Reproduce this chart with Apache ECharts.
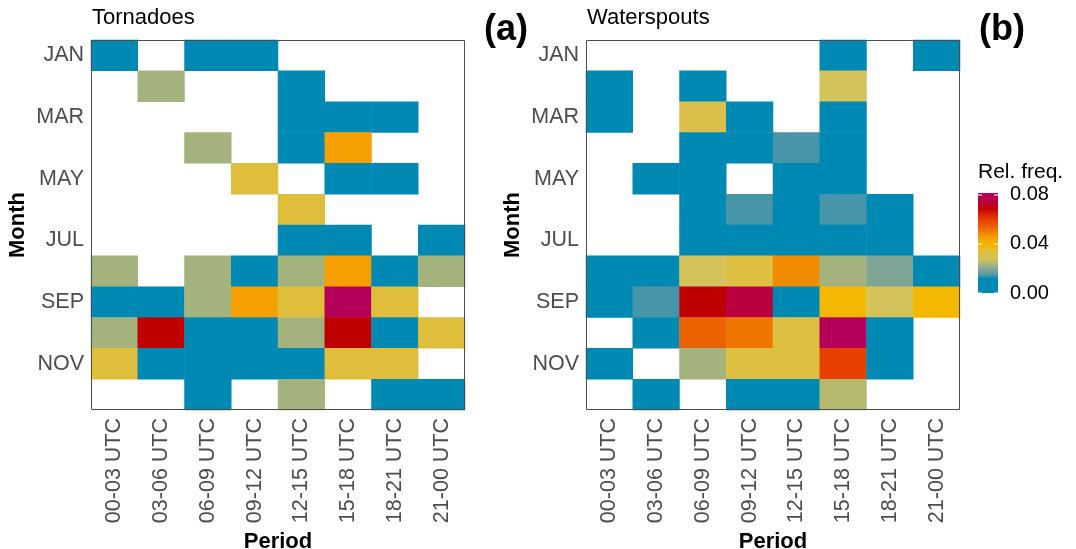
<!DOCTYPE html>
<html>
<head>
<meta charset="utf-8">
<script src="https://cdn.jsdelivr.net/npm/echarts@6/dist/echarts.min.js"></script>
<style>
  html, body { margin: 0; padding: 0; background: #fff; }
  #chart { width: 1076px; height: 549px; }
</style>
</head>
<body>
<div id="chart"></div>
<script>
// Hour blocks (x) and months (y)
const periods = ['00-03 UTC', '03-06 UTC', '06-09 UTC', '09-12 UTC', '12-15 UTC', '15-18 UTC', '18-21 UTC', '21-00 UTC'];
const months = ['JAN', 'FEB', 'MAR', 'APR', 'MAY', 'JUN', 'JUL', 'AUG', 'SEP', 'OCT', 'NOV', 'DEC'];

// Relative frequency per month (rows) and period (columns); null = no reports
const tornadoes = [
  [0.011, null, 0.011, 0.011, null, null, null, null],
  [null, 0.023, null, null, 0.011, null, null, null],
  [null, null, null, null, 0.011, 0.011, 0.011, null],
  [null, null, 0.023, null, 0.011, 0.045, null, null],
  [null, null, null, 0.034, null, 0.011, 0.011, null],
  [null, null, null, null, 0.034, null, null, null],
  [null, null, null, null, 0.011, 0.011, null, 0.011],
  [0.023, null, 0.023, 0.011, 0.023, 0.045, 0.011, 0.023],
  [0.011, 0.011, 0.023, 0.045, 0.034, 0.080, 0.034, null],
  [0.023, 0.069, 0.011, 0.011, 0.023, 0.069, 0.011, 0.034],
  [0.034, 0.011, 0.011, 0.011, 0.011, 0.034, 0.034, null],
  [null, null, 0.011, null, 0.023, null, 0.011, 0.011]
];

const waterspouts = [
  [null, null, null, null, null, 0.006, null, 0.006],
  [0.006, null, 0.006, null, null, 0.028, null, null],
  [0.006, null, 0.031, 0.006, null, 0.006, null, null],
  [null, null, 0.006, 0.006, 0.014, 0.006, null, null],
  [null, 0.006, 0.006, null, 0.006, 0.006, null, null],
  [null, null, 0.006, 0.014, 0.006, 0.014, 0.006, null],
  [null, null, 0.006, 0.006, 0.006, 0.006, 0.006, null],
  [0.006, 0.006, 0.028, 0.033, 0.048, 0.023, 0.019, 0.006],
  [0.006, 0.014, 0.069, 0.075, 0.006, 0.039, 0.028, 0.039],
  [null, 0.006, 0.054, 0.051, 0.033, 0.080, 0.006, null],
  [0.006, null, 0.023, 0.033, 0.033, 0.060, 0.006, null],
  [null, 0.006, null, 0.006, 0.006, 0.025, null, null]
];

// Colour scale anchors: [value, colour]
const scaleStops = [
  [0.000, '#0089b3'], [0.012, '#0089b3'], [0.014, '#4795a8'], [0.019, '#7fa596'],
  [0.023, '#a4b27e'], [0.028, '#d4c25a'], [0.034, '#dfbe3c'], [0.039, '#f4b800'],
  [0.045, '#f5a000'], [0.049, '#f08500'], [0.053, '#ec6800'], [0.060, '#e84000'],
  [0.065, '#d81a00'], [0.069, '#bf0000'], [0.075, '#bb0040'], [0.080, '#b5005a']
];
const legendTicks = [0.00, 0.04, 0.08];

const SCALE_MAX = 0.08;
const FONT = '"Liberation Sans", Arial, Helvetica, sans-serif';

function hexToRgb(h) {
  return [parseInt(h.slice(1, 3), 16), parseInt(h.slice(3, 5), 16), parseInt(h.slice(5, 7), 16)];
}
function colourAt(v) {
  if (v <= scaleStops[0][0]) return scaleStops[0][1];
  for (let i = 1; i < scaleStops.length; i++) {
    const [v1, c1] = scaleStops[i];
    const [v0, c0] = scaleStops[i - 1];
    if (v <= v1) {
      const t = (v - v0) / (v1 - v0);
      const a = hexToRgb(c0), b = hexToRgb(c1);
      const rgb = a.map((x, k) => Math.round(x + (b[k] - x) * t));
      return 'rgb(' + rgb.join(',') + ')';
    }
  }
  return scaleStops[scaleStops.length - 1][1];
}
// fine ramp so the continuous visualMap follows the uneven anchors
const ramp = [];
for (let i = 0; i <= 160; i++) ramp.push(colourAt(SCALE_MAX * i / 160));

function toCells(matrix) {
  const out = [];
  matrix.forEach((row, y) => row.forEach((v, x) => { if (v !== null) out.push([x, y, v]); }));
  return out;
}

const panels = [
  { left: 91, top: 40, width: 374, height: 370, title: 'Tornadoes', tag: '(a)', data: tornadoes },
  { left: 586, top: 40, width: 374, height: 370, title: 'Waterspouts', tag: '(b)', data: waterspouts }
];

const axisText = { color: '#4d4d4d', fontSize: 21.5, fontFamily: FONT };
const nameText = { color: '#000', fontSize: 22, fontWeight: 'bold', fontFamily: FONT };

// colour bar geometry
const bar = { x: 978, y: 193, w: 20, h: 100 };
const barMax = 0.0816;
const barY = v => bar.y + bar.h - v / barMax * bar.h;

const graphics = [];
panels.forEach(p => {
  graphics.push({
    type: 'rect', z: 100, silent: true,
    shape: { x: p.left + 0.5, y: p.top + 0.5, width: p.width - 1, height: p.height - 1 },
    style: { fill: 'none', stroke: '#4d4d4d', lineWidth: 1 }
  });
  graphics.push({
    type: 'text', z: 100, left: p.left + p.width + 19, top: 12,
    style: { text: p.tag, fontSize: 36, fontWeight: 'bold', fontFamily: FONT, fill: '#000' }
  });
});
graphics.push({
  type: 'text', x: 978, y: 172,
  style: { text: 'Rel. freq.', fontSize: 21, fontFamily: FONT, fill: '#000', textVerticalAlign: 'middle' }
});
graphics.push({
  type: 'rect', silent: true,
  shape: { x: bar.x, y: bar.y, width: bar.w, height: bar.h },
  style: {
    fill: {
      type: 'linear', x: 0, y: 1, x2: 0, y2: 0,
      colorStops: scaleStops.map(s => ({ offset: s[0] / barMax, color: s[1] }))
        .concat([{ offset: 1, color: scaleStops[scaleStops.length - 1][1] }])
    }
  }
});
legendTicks.forEach(t => {
  graphics.push({
    type: 'line', silent: true,
    shape: { x1: bar.x, y1: barY(t), x2: bar.x + 4, y2: barY(t) },
    style: { stroke: '#fff', lineWidth: 1 }
  });
  graphics.push({
    type: 'line', silent: true,
    shape: { x1: bar.x + bar.w - 4, y1: barY(t), x2: bar.x + bar.w, y2: barY(t) },
    style: { stroke: '#fff', lineWidth: 1 }
  });
  graphics.push({
    type: 'text', x: 1010, y: barY(t),
    style: { text: t.toFixed(2), fontSize: 20, fontFamily: FONT, fill: '#000', textVerticalAlign: 'middle' }
  });
});

const option = {
  backgroundColor: '#fff',
  animation: false,
  title: panels.map(p => ({
    text: p.title, left: p.left + 1, top: 7, padding: 0,
    textStyle: { fontSize: 22, fontWeight: 'normal', color: '#000', fontFamily: FONT }
  })),
  grid: panels.map(p => ({
    left: p.left, top: p.top, width: p.width, height: p.height,
    show: false, containLabel: false, outerBoundsMode: 'none'
  })),
  xAxis: panels.map((p, i) => ({
    type: 'category', gridIndex: i, data: periods,
    name: 'Period', nameLocation: 'middle', nameGap: 118, nameTextStyle: nameText,
    axisLine: { show: false }, axisTick: { show: false },
    splitLine: { show: false },
    axisLabel: Object.assign({ rotate: 90, interval: 0, margin: 8 }, axisText)
  })),
  yAxis: panels.map((p, i) => ({
    type: 'category', gridIndex: i, data: months, inverse: true,
    name: 'Month', nameLocation: 'middle', nameRotate: 90, nameGap: 62, nameTextStyle: nameText,
    axisLine: { show: false }, axisTick: { show: false },
    splitLine: { show: false },
    axisLabel: Object.assign({ interval: 1, margin: 7 }, axisText)
  })),
  visualMap: {
    type: 'continuous', show: false, min: 0, max: SCALE_MAX,
    seriesIndex: [0, 1], inRange: { color: ramp }
  },
  series: panels.map((p, i) => ({
    type: 'heatmap', name: p.title, xAxisIndex: i, yAxisIndex: i,
    data: toCells(p.data),
    itemStyle: { borderWidth: 0 },
    emphasis: { disabled: true }
  })),
  graphic: graphics
};

const chart = echarts.init(document.getElementById('chart'), null, { renderer: 'canvas' });
chart.setOption(option);
</script>
</body>
</html>
